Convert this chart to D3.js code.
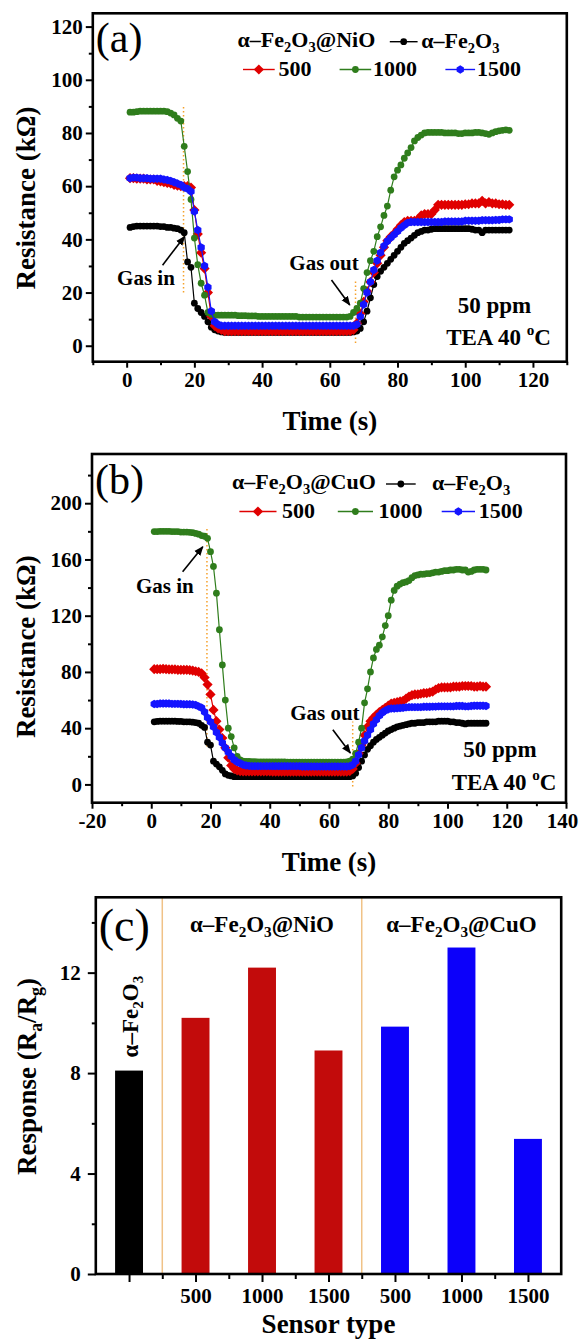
<!DOCTYPE html>
<html>
<head>
<meta charset="utf-8">
<script src="https://cdn.jsdelivr.net/npm/d3@7"></script>
<style>
body { margin: 0; background: #fff; }
svg { display: block; }
text { font-family: "Liberation Serif", "Times New Roman", serif; }
</style>
</head>
<body>
<script>
// sampling times (s), shared by panels (a) and (b)
var timeS = [1,2,3,4,5,6,7,8,9,10,
  11,12,13,14,15,16,17,18,19,20,
  21,22,23,24,25,26,27,28,29,30,
  31,32,33,34,35,36,37,38,39,40,
  41,42,43,44,45,46,47,48,49,50,
  51,52,53,54,55,56,57,58,59,60,
  61,62,63,64,65,66,67,68,69,70,
  71,72,73,74,75,76,77,78,79,80,
  81,82,83,84,85,86,87,88,89,90,
  91,92,93,94,95,96,97,98,99,100,
  101,102,103,104,105,106,107,108,109,110,
  111,112,113];

// panel (a) resistance, kOhm
var fe2o3A = [44.5,44.8,45,45,45,45,45,45,45,44.8,
  44.8,44.5,44.5,44.2,44,43.5,42.5,31.5,29.5,16,
  14,12.5,11,9,7,6,5.5,5.2,5,5,
  5,5,5,5,5,5,5,5,5,5,
  5,5,5,5,5,5,5,5,5,5,
  5,5,5,5,5,5,5,5,5,5,
  5,5,5,5,5,5,5.2,5.5,6.5,9,
  13,18,23,26,28,29.5,31,32.5,34,35.5,
  37,38.5,39.5,40.5,41.5,42.5,43,43.5,43.5,43.8,
  44,44,44,44,44,44,44,44,44,44,
  44,43.8,43.5,43.5,42.5,43.5,43.5,43.5,43.5,43.5,
  43.5,43.5,43.5];
var nio500A = [63,63,62.8,62.8,62.8,62.5,62.5,62.5,62,61.8,
  61.5,61.2,61,60.5,60.2,60,60,60,59.5,51,
  42,35,29,20,11,7.5,6.5,6,5.5,5.5,
  5.5,5.5,5.5,5.5,5.5,5.5,5.5,5.5,5.5,5.5,
  5.5,5.5,5.5,5.5,5.5,5.5,5.5,5.5,5.5,5.5,
  5.5,5.5,5.5,5.5,5.5,5.5,5.5,5.5,5.5,5.5,
  5.5,5.5,5.5,5.5,5.5,5.5,6,8.5,12,16.5,
  20.5,24,27.5,31,34,37,39.5,41,42.2,43.8,
  45.3,46.5,47,47,47,47.5,49,49.5,49.5,49.5,
  51,53,53,53,53,53,53,53,53,53.2,
  53.2,53.5,53.5,53.5,54.5,53.5,54,53.5,53.5,53.2,
  53.2,53,53];
var nio1000A = [87.8,87.8,88,88.2,88.2,88.2,88.2,88.2,88.2,88.2,
  88.2,88,87.5,86.8,85.5,84.5,75,65.5,55,40.5,
  30.5,23.5,19,12.5,11.8,11.5,11.5,11.5,11.5,11.5,
  11.5,11.5,11.3,11.3,11.3,11.2,11.2,11.2,11,11,
  11,11,11,11,11,11,11,11,11,11,
  10.8,10.8,10.8,10.8,10.8,10.8,10.8,10.8,10.8,10.8,
  10.8,10.8,10.8,10.8,10.8,11,12.5,14,16,21.5,
  27.5,32,35.5,41,44.7,49,52.5,58.5,63.5,66,
  68,70.5,72.5,74.5,77,78.3,79.2,80,80.2,80.2,
  80.2,80.2,80.2,80,80,80,80,79.8,79.8,80,
  80,80,80.2,80.2,80,79.8,79.5,80,80.5,80.8,
  81,81.2,81];
var nio1500A = [63,63.2,63.2,63,63,63,62.8,62.8,62.8,62.8,
  62.5,62.3,62,61.5,61,60.5,59.5,59,58,50.5,
  43.5,37,30,22,13,9,8,7.5,7.5,7.5,
  7.5,7.5,7.5,7.5,7.5,7.5,7.5,7.5,7.5,7.5,
  7.5,7.5,7.5,7.5,7.5,7.5,7.5,7.5,7.5,7.5,
  7.5,7.5,7.5,7.5,7.5,7.5,7.5,7.5,7.5,7.5,
  7.5,7.5,7.5,7.5,7.5,7.5,7.5,8,11,15.5,
  20,24,28.5,32,35,37.5,39.3,40.6,41.8,43,
  44.3,45.3,46.2,46.5,46.5,46.5,46.5,46.5,46.5,46.5,
  46.5,46.5,46.5,46.7,46.7,46.7,46.7,46.7,46.7,47,
  47,47,47,47,47.2,47.2,47.2,47.2,47.3,47.3,
  47.5,47.5,47.5];

// panel (b) resistance, kOhm
var fe2o3B = [44.5,44.8,45,45,45,45,45,45,44.8,44.8,
  44.5,44.5,44.5,44.3,44,43.5,42,40.5,30,28,
  16.5,14.5,12.5,10,7.5,6.5,6,5.5,5.5,5.5,
  5.5,5.5,5.5,5.5,5.5,5.5,5.5,5.5,5.5,5.5,
  5.5,5.5,5.5,5.5,5.5,5.5,5.5,5.5,5.5,5.5,
  5.5,5.5,5.5,5.5,5.5,5.5,5.5,5.5,5.5,5.5,
  5.5,5.5,5.5,5.5,5.5,5.5,5.5,6,8,12,
  16.5,21,25,27.5,30,32,33.5,35,36.5,38,
  39,40,41,41.5,42,42.5,43,43.5,43.5,44,
  44,44,44.5,44.5,44.5,44.5,45,45,45,45,
  44.5,44.5,44,44,43.5,43,43.5,43.5,43.5,43.5,
  43.5,43.5,43.5];
var cuo500B = [82,82,82,82.2,82,81.8,81.8,81.8,81.5,81.5,
  81.5,81.5,81.3,81,80.5,80,79,76,71,64,
  53,45,39,33,26,19,13.5,11,10,9.5,
  9.2,9.2,9.2,9.2,9.2,9.2,9.2,9.2,9.2,9.2,
  9,9,9,9,9,9,9,9,9,9,
  9,9,9,9,9,9,9,9,9,9,
  9,9,9,9,9,9,9.5,11,15,22,
  28,35,41,45,47.5,49.5,51.5,53,54.5,56,
  57.5,58,58.5,59,59.5,61,62.5,63.5,64,64,
  64.5,65,65,65.5,66,67.5,68.5,69,69,69,
  69,69.5,69.5,69.5,70,70,70,70,69.5,69.5,
  70,69.5,69.5];
var cuo1000B = [179.8,179.8,180,180,180,180,179.8,179.8,179.8,179.5,
  179.5,179.5,179.3,179,178.5,178,177,176.5,175,165.5,
  155,136,110,85,60,40,34,26,20,17.5,
  16.5,16.3,16.3,16.2,16.2,16,16,16,16,16,
  16,16,16,16,16,15.8,15.8,15.8,15.8,15.8,
  15.8,15.8,15.8,15.8,15.8,15.8,15.8,15.8,15.8,15.8,
  15.8,15.8,15.8,15.8,15.8,16,16.5,18,22,30,
  40,58,68,80,90,96,99,105,113,120,
  131,138,141,142.5,143.5,144,145,147,148.5,149,
  149.5,149.5,150,150,150.5,151,151,151.5,152,152,
  152.5,152.5,153,153,152.5,152.5,151,151.5,152.5,153,
  153,153,152.5];
var cuo1500B = [57.2,57.2,57.5,57.5,57.5,57.5,57.3,57.3,57.3,57.2,
  57,57,57,56.8,56.5,55.5,54.5,51.5,47.5,44.5,
  41,37,33.5,29.5,26,23,20,17.5,16,15,
  14,13.5,13.2,13,13,13,13,13,13,13,
  13,13,13,13,13,13,13,13,13,13,
  12.8,12.8,12.8,12.8,12.8,12.8,12.8,12.8,12.8,12.8,
  12.8,12.8,12.8,12.8,12.8,12.8,13,14,16.5,21,
  26,31,35,39,43,46,49,51,52.5,53.5,
  54,54,54.2,54.3,54.5,54.8,55,55,55,55,
  55,55.2,55.2,55.2,55.3,55.3,55.5,55.5,55.5,55.5,
  55.5,55.5,55.8,55.8,55.8,55.5,55.5,55.8,56,56,
  56,56,55.8];

// axis ticks
var xTicksA = [0,20,40,60,80,100,120];
var xMinorA = [-10,10,30,50,70,90,110,130];
var yTicksA = [0,20,40,60,80,100,120];
var yMinorA = [10,30,50,70,90,110];
var xTicksB = [-20,0,20,40,60,80,100,120,140];
var xMinorB = [-10,10,30,50,70,90,110,130];
var yTicksB = [0,40,80,120,160,200];
var yMinorB = [20,60,100,140,180,220];

// panel (c) responses
var barPos = [1,2,3,4,5,6,7];
var barTicks = ["","500","1000","1500","500","1000","1500"];
var barValues = [8.1,10.2,12.2,8.9,9.85,13.0,5.38];
var barGroup = ["base","NiO","NiO","NiO","CuO","CuO","CuO"];
var groupSeps = [1.5,4.5];
var yTicksC = [0,4,8,12];
var yMinorC = [2,6,10,14];

var red = "#e00000", green = "#2f7d1c", blue = "#1414ff", black = "#000000";
var barColor = {base: "#000000", NiO: "#c20b0b", CuO: "#0c00fa"};

// marker shapes
var diamondSym = {draw: function(c, s){ var r = Math.sqrt(s/2); c.moveTo(0,-r); c.lineTo(r,0); c.lineTo(0,r); c.lineTo(-r,0); c.closePath(); }};
var hexSym = {draw: function(c, s){ var r = Math.sqrt(s/2.6); for (var k=0;k<6;k++){ var a = Math.PI/3*k + Math.PI/6; if(k==0) c.moveTo(r*Math.cos(a), r*Math.sin(a)); else c.lineTo(r*Math.cos(a), r*Math.sin(a)); } c.closePath(); }};

var svg = d3.select("body").append("svg").attr("width",579).attr("height",1339);

// text with sub/superscripts: parts = [[str, "sub"|"sup"|undefined], ...]
function richText(t, parts, fs){
  var shift = 0;
  parts.forEach(function(p){
    var sp = t.append("tspan").text(p[0]);
    var want = p[1]=="sub" ? fs*0.22 : p[1]=="sup" ? -fs*0.42 : 0;
    if (want != shift) { sp.attr("dy", want - shift); shift = want; }
    if (p[1]) sp.attr("font-size", fs*0.66);
  });
  return t;
}
function fe2o3(extra){
  var p = [["α–Fe"],["2","sub"],["O"],["3","sub"]];
  if (extra) p.push([extra]);
  return p;
}

function styleAxis(g, fs){
  g.select(".domain").remove();
  g.selectAll(".tick line").attr("stroke","#000").attr("stroke-width",2);
  g.selectAll(".tick text").attr("fill","#000").attr("font-size",fs).attr("font-weight","bold")
    .attr("font-family","Liberation Serif, Times New Roman, serif");
}

function arrow(g, x1, y1, x2, y2){
  g.append("line").attr("x1",x1).attr("y1",y1).attr("x2",x2).attr("y2",y2)
    .attr("stroke","#000").attr("stroke-width",1.6).attr("marker-end","url(#arrowHead)");
}

var defs = svg.append("defs");
defs.append("marker").attr("id","arrowHead").attr("viewBox","0 0 10 10").attr("refX",9).attr("refY",5)
  .attr("markerWidth",6).attr("markerHeight",6).attr("orient","auto")
  .append("path").attr("d","M0,1 L10,5 L0,9 Z").attr("fill","#000");

function timePanel(p){
  var x = d3.scaleLinear().domain(p.xDomain).range([p.left, p.right]);
  var y = d3.scaleLinear().domain(p.yDomain).range([p.bottom, p.top]);
  var g = svg.append("g");

  g.append("g").attr("transform","translate(0,"+p.bottom+")")
    .call(d3.axisBottom(x).tickValues(p.xMinor).tickSize(3.5).tickFormat(""))
    .call(styleAxis, 21);
  var xa = g.append("g").attr("transform","translate(0,"+p.bottom+")")
    .call(d3.axisBottom(x).tickValues(p.xTicks).tickSize(6).tickPadding(4).tickFormat(function(d){return String(d);}))
    .call(styleAxis, 21);
  // keep the last label inside the page
  xa.selectAll(".tick text").filter(function(d){return d == p.xDomain[1];}).attr("dx",-4);
  g.append("g").attr("transform","translate("+p.left+",0)")
    .call(d3.axisLeft(y).tickValues(p.yMinor).tickSize(4).tickFormat(""))
    .call(styleAxis, 21);
  g.append("g").attr("transform","translate("+p.left+",0)")
    .call(d3.axisLeft(y).tickValues(p.yTicks).tickSize(7).tickPadding(3).tickFormat(function(d){return String(d);}))
    .call(styleAxis, 21);

  // gas in / gas out markers
  p.dotted.forEach(function(d){
    g.append("line").attr("x1",x(d.t)).attr("x2",x(d.t)).attr("y1",y(d.r0)).attr("y2",y(d.r1))
      .attr("stroke","#f5a12a").attr("stroke-width",1.5).attr("stroke-dasharray","1.5,2.5");
  });

  p.series.forEach(function(s){
    var line = d3.line().x(function(d,i){return x(timeS[i]);}).y(function(d){return y(d);});
    g.append("path").datum(s.values).attr("d",line).attr("fill","none").attr("stroke",s.color).attr("stroke-width",1.2);
    g.append("g").selectAll("path").data(s.values).enter().append("path")
      .attr("transform",function(d,i){return "translate("+x(timeS[i])+","+y(d)+")";})
      .attr("d",d3.symbol().type(s.symbol).size(s.size))
      .attr("fill",s.color);
  });

  // annotations
  p.notes.forEach(function(n){
    g.append("text").attr("x",x(n.t)).attr("y",y(n.r)).attr("text-anchor","middle")
      .attr("font-size",21).attr("font-weight","bold").text(n.label);
    arrow(g, x(n.a[0]), y(n.a[1]), x(n.a[2]), y(n.a[3]));
  });

  g.append("rect").attr("x",p.left).attr("y",p.top).attr("width",p.right-p.left).attr("height",p.bottom-p.top)
    .attr("fill","none").attr("stroke","#000").attr("stroke-width",2.6);

  g.append("text").attr("x",p.left+3).attr("y",p.tagY).attr("font-size",42).text(p.tag);

  // legend
  richText(g.append("text").attr("x",p.leg.hx).attr("y",p.leg.hy).attr("font-size",22).attr("font-weight","bold"), fe2o3(p.leg.host), 22);
  p.leg.items.forEach(function(it){
    g.append("line").attr("x1",it.x1).attr("x2",it.x2).attr("y1",it.y).attr("y2",it.y).attr("stroke",it.color).attr("stroke-width",1.4);
    g.append("path").attr("transform","translate("+((it.x1+it.x2)/2)+","+it.y+")")
      .attr("d",d3.symbol().type(it.symbol).size(it.size)).attr("fill",it.color);
    var t = g.append("text").attr("x",it.tx).attr("y",it.y+6).attr("font-size",22).attr("font-weight","bold");
    if (it.chem) richText(t, fe2o3(), 22); else t.text(it.label);
  });

  g.append("text").attr("x",p.condX).attr("y",p.condY[0]).attr("text-anchor","middle")
    .attr("font-size",23).attr("font-weight","bold").text("50 ppm");
  richText(g.append("text").attr("x",p.condX+4).attr("y",p.condY[1]).attr("text-anchor","middle")
    .attr("font-size",23).attr("font-weight","bold"), [["TEA 40 "],["o","sup"],["C"]], 23);

  g.append("text").attr("x",(p.left+p.right)/2).attr("y",p.bottom+68).attr("text-anchor","middle")
    .attr("font-size",27).attr("font-weight","bold").text("Time (s)");
  g.append("text").attr("transform","translate(35,"+p.yTitleY+") rotate(-90)").attr("text-anchor","middle")
    .attr("font-size",27).attr("font-weight","bold").text("Resistance (kΩ)");
}

var sizeC = 36, sizeD = 52, sizeH = 46;

timePanel({
  left: 92.8, right: 566.8, top: 13.3, bottom: 361.7,
  xDomain: [-10,130], yDomain: [-6,125],
  xTicks: xTicksA, xMinor: xMinorA, yTicks: yTicksA, yMinor: yMinorA,
  series: [
    {values: fe2o3A, color: black, symbol: d3.symbolCircle, size: sizeC},
    {values: nio500A, color: red, symbol: diamondSym, size: sizeD},
    {values: nio1000A, color: green, symbol: d3.symbolCircle, size: sizeC},
    {values: nio1500A, color: blue, symbol: hexSym, size: sizeH}
  ],
  dotted: [{t: 16.8, r0: 20, r1: 90}, {t: 67.6, r0: 1, r1: 25}],
  notes: [
    {label: "Gas in", t: 5.7, r: 22.8, a: [10.6,30.3,17.1,41.1]},
    {label: "Gas out", t: 58.3, r: 28.5, a: [60.5,24.7,65.9,15.3]}
  ],
  tag: "(a)", tagY: 52,
  leg: {host: "@NiO", hx: 237.6, hy: 46.7, items: [
    {x1: 389.8, x2: 417.6, y: 41.7, color: black, symbol: d3.symbolCircle, size: sizeC, tx: 421.3, chem: true},
    {x1: 243, x2: 274.7, y: 69.5, color: red, symbol: diamondSym, size: sizeD, tx: 278.4, label: "500"},
    {x1: 339.6, x2: 371.2, y: 69.5, color: green, symbol: d3.symbolCircle, size: sizeC, tx: 373, label: "1000"},
    {x1: 445.4, x2: 475.1, y: 69.5, color: blue, symbol: hexSym, size: sizeH, tx: 477, label: "1500"}
  ]},
  condX: 494.5, condY: [313, 345],
  yTitleY: 198
});

timePanel({
  left: 92, right: 566, top: 454, bottom: 802.7,
  xDomain: [-20,140], yDomain: [-13,235],
  xTicks: xTicksB, xMinor: xMinorB, yTicks: yTicksB, yMinor: yMinorB,
  series: [
    {values: fe2o3B, color: black, symbol: d3.symbolCircle, size: sizeC},
    {values: cuo500B, color: red, symbol: diamondSym, size: sizeD},
    {values: cuo1000B, color: green, symbol: d3.symbolCircle, size: sizeC},
    {values: cuo1500B, color: blue, symbol: hexSym, size: sizeH}
  ],
  dotted: [{t: 18.8, r0: 27, r1: 182}, {t: 68, r0: -1.4, r1: 44.8}],
  notes: [
    {label: "Gas in", t: 4.6, r: 136, a: [10.6,151.3,17.4,169]},
    {label: "Gas out", t: 58.6, r: 45.8, a: [61.3,38.9,67.2,22.3]}
  ],
  tag: "(b)", tagY: 494,
  leg: {host: "@CuO", hx: 232, hy: 489, items: [
    {x1: 386, x2: 415.7, y: 484, color: black, symbol: d3.symbolCircle, size: sizeC, tx: 432, chem: true},
    {x1: 239.4, x2: 276.5, y: 511.5, color: red, symbol: diamondSym, size: sizeD, tx: 282, label: "500"},
    {x1: 337.8, x2: 373, y: 511.5, color: green, symbol: d3.symbolCircle, size: sizeC, tx: 378.6, label: "1000"},
    {x1: 441.7, x2: 475, y: 511.5, color: blue, symbol: hexSym, size: sizeH, tx: 478.8, label: "1500"}
  ]},
  condX: 500, condY: [757, 790],
  yTitleY: 646.7
});

// ---- panel (c) ----
var leftC = 95.8, rightC = 561.2, topC = 897.3, bottomC = 1274;
var xc = d3.scaleLinear().domain([0.5,7.5]).range([leftC, rightC]);
var yc = d3.scaleLinear().domain([0,15]).range([bottomC, topC]);
var gc = svg.append("g");
var barW = 0.42;

gc.append("g").attr("transform","translate(0,"+bottomC+")")
  .call(d3.axisBottom(xc).tickValues([1.5,2.5,3.5,4.5,5.5,6.5]).tickSize(5).tickFormat(""))
  .call(styleAxis, 21);
gc.append("g").attr("transform","translate(0,"+bottomC+")")
  .call(d3.axisBottom(xc).tickValues(barPos).tickSize(8).tickPadding(6).tickFormat(function(d,i){return barTicks[i];}))
  .call(styleAxis, 21);
gc.append("g").attr("transform","translate("+leftC+",0)")
  .call(d3.axisLeft(yc).tickValues(yMinorC).tickSize(4).tickFormat(""))
  .call(styleAxis, 21);
gc.append("g").attr("transform","translate("+leftC+",0)")
  .call(d3.axisLeft(yc).tickValues(yTicksC).tickSize(8).tickPadding(7).tickFormat(function(d){return String(d);}))
  .call(styleAxis, 21);

gc.selectAll("line.sep").data(groupSeps).enter().append("line").attr("class","sep")
  .attr("x1",function(d){return xc(d);}).attr("x2",function(d){return xc(d);})
  .attr("y1",topC).attr("y2",bottomC).attr("stroke","#f0c287").attr("stroke-width",1.5);

gc.selectAll("rect.bar").data(barValues).enter().append("rect").attr("class","bar")
  .attr("x",function(d,i){return xc(barPos[i]-barW/2);})
  .attr("width",xc(barW)-xc(0))
  .attr("y",function(d){return yc(d);})
  .attr("height",function(d){return yc(0)-yc(d);})
  .attr("fill",function(d,i){return barColor[barGroup[i]];});

gc.append("rect").attr("x",leftC).attr("y",topC).attr("width",rightC-leftC).attr("height",bottomC-topC)
  .attr("fill","none").attr("stroke","#000").attr("stroke-width",2.6);

gc.append("text").attr("x",leftC+3).attr("y",941).attr("font-size",46).text("(c)");
richText(gc.append("text").attr("x",xc(3)).attr("y",931.7).attr("text-anchor","middle")
  .attr("font-size",23).attr("font-weight","bold"), fe2o3("@NiO"), 23);
richText(gc.append("text").attr("x",xc(6)).attr("y",931.7).attr("text-anchor","middle")
  .attr("font-size",23).attr("font-weight","bold"), fe2o3("@CuO"), 23);
richText(gc.append("text").attr("transform","translate("+(xc(1)+9)+","+yc(10.25)+") rotate(-90)")
  .attr("text-anchor","middle").attr("font-size",23).attr("font-weight","bold"), fe2o3(), 23);

gc.append("text").attr("x",(leftC+rightC)/2).attr("y",1333).attr("text-anchor","middle")
  .attr("font-size",27).attr("font-weight","bold").text("Sensor type");
richText(gc.append("text").attr("transform","translate(36,1076.5) rotate(-90)").attr("text-anchor","middle")
  .attr("font-size",27).attr("font-weight","bold"), [["Response (R"],["a","sub"],["/R"],["g","sub"],[")"]], 27);
</script>
</body>
</html>
